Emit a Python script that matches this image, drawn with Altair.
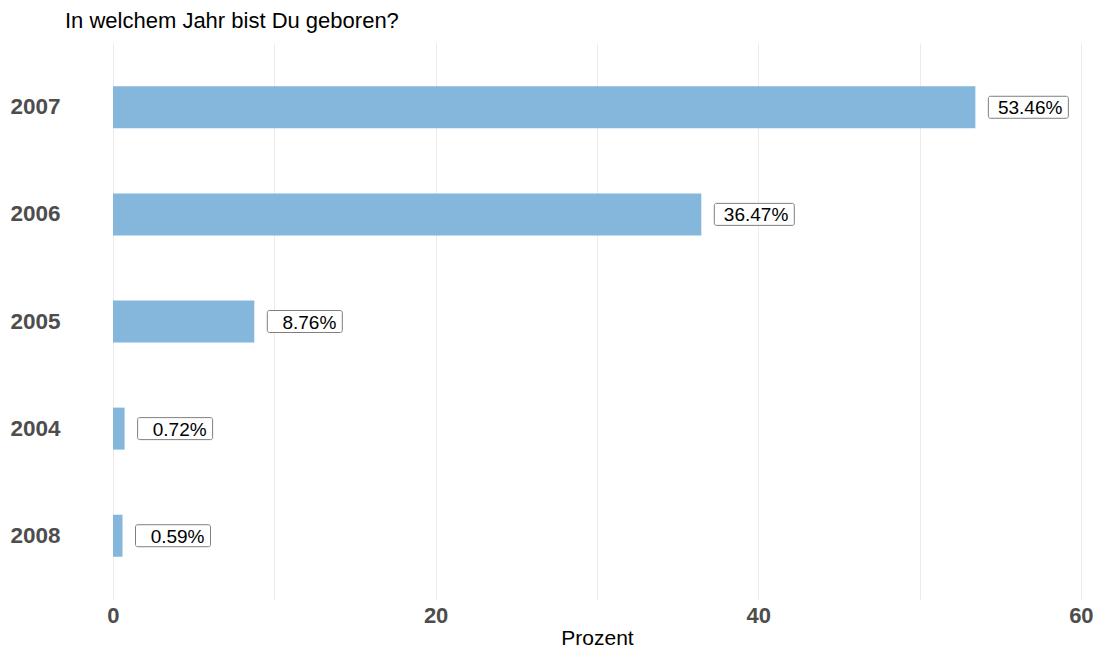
import altair as alt
import pandas as pd

years = ["2007", "2006", "2005", "2004", "2008"]
percent = [53.46, 36.47, 8.76, 0.72, 0.59]

df = pd.DataFrame({"Jahr": years, "Prozent": percent})

FONT = "Liberation Sans"
BAR_COLOR = "#85B6DB"

y_enc = alt.Y(
    "Jahr:N",
    sort=years,
    title=None,
    scale=alt.Scale(paddingInner=0.6, paddingOuter=0.4),
    axis=alt.Axis(
        labelFont=FONT, labelFontSize=22.5, labelFontWeight="bold", labelColor="#4d4d4d",
        labelPadding=5, ticks=False, domain=False, grid=False,
    ),
)

x_enc = alt.X(
    "Prozent:Q",
    scale=alt.Scale(domain=[-2.975, 61.0], nice=False, zero=False),
    axis=alt.Axis(
        values=[0, 10, 20, 30, 40, 50, 60],
        labelExpr="datum.value % 20 == 0 ? datum.label : ''",
        labelFont=FONT, labelFontSize=22, labelFontWeight="bold", labelColor="#4d4d4d",
        labelPadding=5, ticks=False, domain=False,
        grid=True, gridColor="#ebebeb", gridWidth=1,
        title="Prozent", titleFont=FONT, titleFontSize=21, titleFontWeight="normal",
        titleColor="#000000", titleX=532, titleY=44, titleBaseline="alphabetic",
    ),
)

base = alt.Chart(df).transform_calculate(
    lab="format(datum.Prozent, '.2f') + '%'"
)

bars = base.mark_bar(color=BAR_COLOR, size=42).encode(x=x_enc, x2=alt.datum(0), y=y_enc)

wide = base.transform_filter("datum.Prozent >= 10")
narrow = base.transform_filter("datum.Prozent < 10")

box_w = wide.mark_bar(fill="white", stroke="#7f7f7f", strokeWidth=1, cornerRadius=2,
                      size=22, xOffset=13, x2Offset=93).encode(
    x="Prozent:Q", x2="Prozent:Q", y=alt.Y("Jahr:N", sort=years))
box_n = narrow.mark_bar(fill="white", stroke="#7f7f7f", strokeWidth=1, cornerRadius=2,
                        size=22, xOffset=13, x2Offset=88).encode(
    x="Prozent:Q", x2="Prozent:Q", y=alt.Y("Jahr:N", sort=years))

txt_w = wide.mark_text(font=FONT, fontSize=19, color="black", align="right",
                       baseline="middle", dx=87, dy=1).encode(
    x="Prozent:Q", y=alt.Y("Jahr:N", sort=years), text="lab:N")
txt_n = narrow.mark_text(font=FONT, fontSize=19, color="black", align="right",
                         baseline="middle", dx=82, dy=1).encode(
    x="Prozent:Q", y=alt.Y("Jahr:N", sort=years), text="lab:N")

chart = alt.layer(bars, box_w, box_n, txt_w, txt_n).properties(
    width=1032,
    height=557,
    autosize=alt.AutoSizeParams(type="none"),
    padding={"left": 65, "top": 43, "right": 2, "bottom": 49},
    background="white",
    title=alt.Title(
        "In welchem Jahr bist Du geboren?",
        anchor="start", frame="group", font=FONT, fontSize=22,
        fontWeight="normal", color="black", offset=10,
    ),
).configure_view(stroke=None)

chart.save("out.html", embed_options={"renderer": "svg", "actions": False})
